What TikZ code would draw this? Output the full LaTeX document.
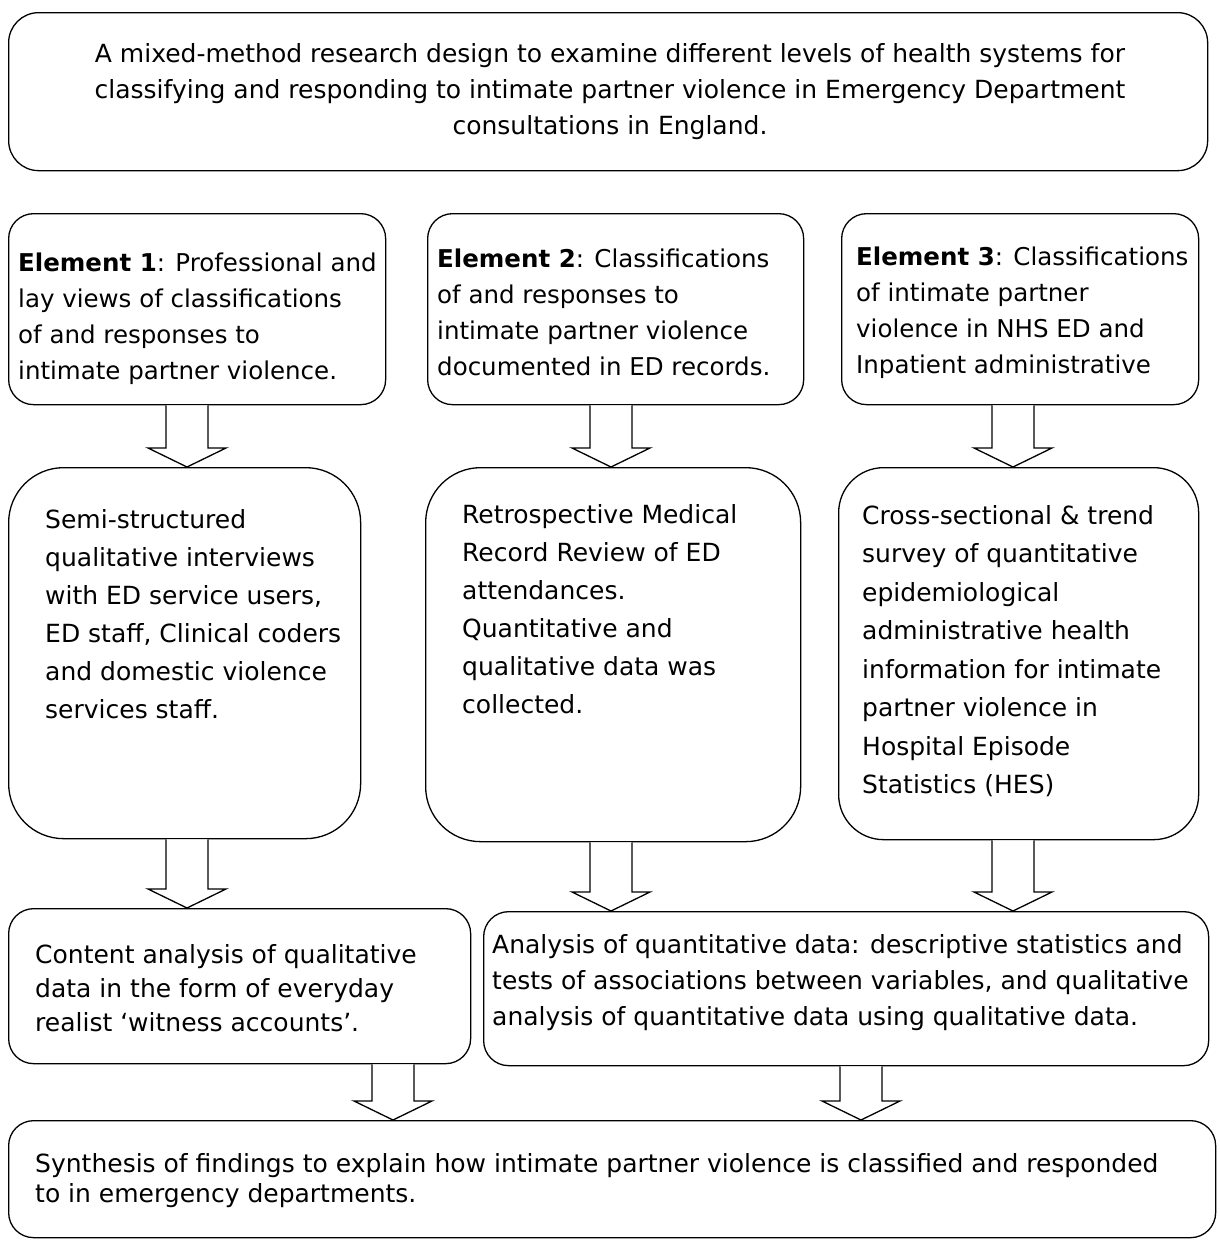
\documentclass[tikz,border=0pt]{standalone}
\usepackage{fontspec}
\setmainfont{DejaVu Sans}
\usetikzlibrary{calc}
\tikzset{
  box/.style={draw, line width=1.3pt, rounded corners=#1, inner sep=0pt, anchor=north west},
  txt/.style={anchor=north west, align=left, inner sep=0pt, font=\fontsize{25}{38}\selectfont},
  etxt/.style={txt, font=\fontsize{24.5}{36}\selectfont},
  barrow/.style={draw, line width=1.3pt, fill=white, line join=miter},
}
\newcommand\blockarr[3]{%
  \draw[barrow] let \p1=(#2.south), \p2=(#3.north) in
    (#1pt-21pt,\y1) -- (#1pt-21pt,\y2+19pt) -- (#1pt-39pt,\y2+19pt) -- (#1pt,\y2)
    -- (#1pt+39pt,\y2+19pt) -- (#1pt+21pt,\y2+19pt) -- (#1pt+21pt,\y1);}
\begin{document}
\begin{tikzpicture}[x=1pt,y=-1pt]
\useasboundingbox[fill=white] (0,0) rectangle (1220,1240);
% boxes
\node[box=30pt, minimum width=1199pt, minimum height=158pt] (top) at (8,12) {};
\node[box=25pt, minimum width=377pt, minimum height=191pt] (e1) at (8,213) {};
\node[box=25pt, minimum width=376pt, minimum height=191pt] (e2) at (427,213) {};
\node[box=25pt, minimum width=357pt, minimum height=191pt] (e3) at (841,213) {};
\node[box=55pt, minimum width=352pt, minimum height=371pt] (b4) at (8,467) {};
\node[box=55pt, minimum width=375pt, minimum height=374pt] (b5) at (425,467) {};
\node[box=45pt, minimum width=360pt, minimum height=372pt] (b6) at (838,467) {};
\node[box=25pt, minimum width=462pt, minimum height=155pt] (b7) at (8,908) {};
\node[box=25pt, minimum width=725pt, minimum height=154pt] (b8) at (483,911) {};
\node[box=25pt, minimum width=1207pt, minimum height=117pt] (b9) at (8,1120) {};
% texts
\node[txt, anchor=north, align=center, font=\fontsize{25}{36}\selectfont] (ttop) at (610,43)
  {A mixed-method research design to examine different levels of health systems for\\
   classifying and responding to intimate partner violence in Emergency Department\\
   consultations in England.};
\node[etxt] (te1) at (18,253) {\textbf{Element 1}: Professional and\\ lay views of classifications\\ of and responses to\\ intimate partner violence.};
\node[etxt] (te2) at (437,249) {\textbf{Element 2}: Classifications\\ of and responses to\\ intimate partner violence\\ documented in ED records.};
\node[etxt] (te3) at (856,247) {\textbf{Element 3}: Classifications\\ of intimate partner\\ violence in NHS ED and\\ Inpatient administrative};
\node[txt] (tb4) at (45,509) {Semi-structured\\ qualitative interviews\\ with ED service users,\\ ED staff, Clinical coders\\ and domestic violence\\ services staff.};
\node[txt] (tb5) at (462,504) {Retrospective Medical\\ Record Review of ED\\ attendances.\\ Quantitative and\\ qualitative data was\\ collected.};
\node[txt, font=\fontsize{25}{38.5}\selectfont] (tb6) at (862,505) {Cross-sectional \& trend\\ survey of quantitative\\ epidemiological\\ administrative health\\ information for intimate\\ partner violence in\\ Hospital Episode\\ Statistics (HES)};
\node[txt, font=\fontsize{25}{34}\selectfont] (tb7) at (35,944) {Content analysis of qualitative\\ data in the form of everyday\\ realist ‘witness accounts’.};
\node[txt, font=\fontsize{25}{36}\selectfont] (tb8) at (492,934) {Analysis of quantitative data: descriptive statistics and\\ tests of associations between variables, and qualitative\\ analysis of quantitative data using qualitative data.};
\node[txt, font=\fontsize{25}{30}\selectfont] (tb9) at (35,1153) {Synthesis of findings to explain how intimate partner violence is classified and responded\\ to in emergency departments.};
% arrows
\blockarr{187}{e1}{b4}
\blockarr{611}{e2}{b5}
\blockarr{1013}{e3}{b6}
\blockarr{187}{b4}{b7}
\blockarr{611}{b5}{b8}
\blockarr{1013}{b6}{b8}
\blockarr{393}{b7}{b9}
\blockarr{861}{b8}{b9}
\end{tikzpicture}
\end{document}
